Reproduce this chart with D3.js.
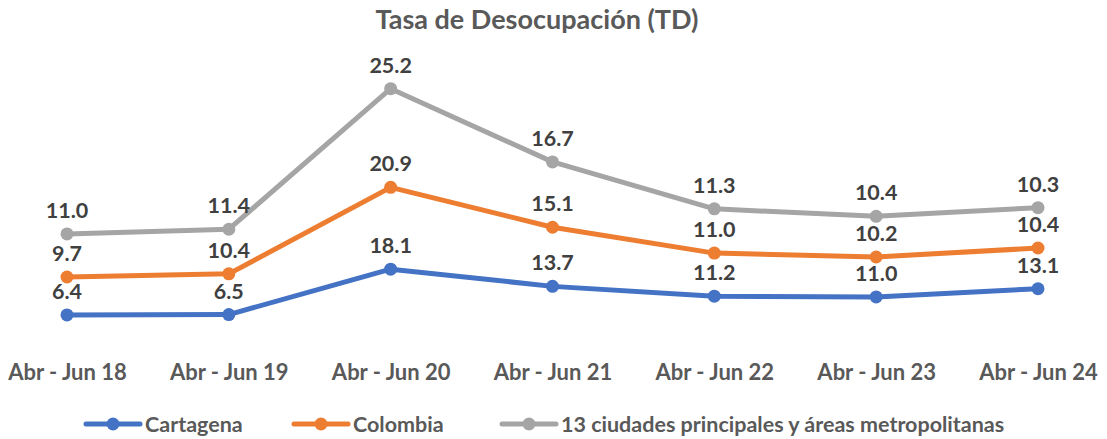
<!DOCTYPE html>
<html>
<head>
<meta charset="utf-8">
<script src="https://cdn.jsdelivr.net/npm/d3@7"></script>
<style>
  body { margin:0; background:#fff; }
  text { font-family: Lato, "Open Sans", sans-serif; font-weight:bold; }
</style>
</head>
<body>
<div id="canvas"></div>
<script>
// data (Excel stacked line: each series drawn on top of the previous)
var periods = ['Abr - Jun 18','Abr - Jun 19','Abr - Jun 20','Abr - Jun 21','Abr - Jun 22','Abr - Jun 23','Abr - Jun 24'];
var cartagena = [6.4, 6.5, 18.1, 13.7, 11.2, 11.0, 13.1];
var colombia = [9.7, 10.4, 20.9, 15.1, 11.0, 10.2, 10.4];
var ciudades = [11.0, 11.4, 25.2, 16.7, 11.3, 10.4, 10.3];
var seriesNames = ['Cartagena','Colombia','13 ciudades principales y áreas metropolitanas'];
var seriesColors = ['#4472C4','#ED7D31','#A5A5A5'];

var W = 1107, H = 439;
var svg = d3.select('#canvas').append('svg').attr('width',W).attr('height',H);

var rows = periods.map(function(p,i){
    return {period:p, s0:cartagena[i], s1:colombia[i], s2:ciudades[i]};
});
var stacked = d3.stack().keys(['s0','s1','s2'])(rows);

var x = d3.scalePoint().domain(periods).range([67,1038]);
var y = d3.scaleLinear().domain([0,70]).range([340,66]);

svg.append('text')
    .attr('x',537).attr('y',29)
    .attr('text-anchor','middle')
    .attr('fill','#595959')
    .style('font-size','27px')
    .text('Tasa de Desocupación (TD)');

// x axis labels only
var axisX = d3.axisBottom(x).tickSize(0).tickPadding(0);
var gx = svg.append('g').attr('transform','translate(0,364)').call(axisX);
gx.select('.domain').remove();
gx.selectAll('text')
    .attr('fill','#595959')
    .style('font-size','22px')
    .style('font-family','Lato, "Open Sans", sans-serif')
    .style('font-weight','bold');

var line = d3.line()
    .x(function(d){ return x(d.data.period); })
    .y(function(d){ return y(d[1]); });

stacked.forEach(function(s,k){
    var g = svg.append('g');
    g.append('path')
        .datum(s)
        .attr('d',line)
        .attr('fill','none')
        .attr('stroke',seriesColors[k])
        .attr('stroke-width',5)
        .attr('stroke-linejoin','round');
    g.selectAll('circle').data(s).enter().append('circle')
        .attr('cx',function(d){ return x(d.data.period); })
        .attr('cy',function(d){ return y(d[1]); })
        .attr('r',6.5)
        .attr('fill',seriesColors[k]);
    g.selectAll('text').data(s).enter().append('text')
        .attr('x',function(d){ return x(d.data.period); })
        .attr('y',function(d){ return y(d[1]) - 16; })
        .attr('text-anchor','middle')
        .attr('fill','#404040')
        .style('font-size','21.5px')
        .text(function(d){ return (d[1]-d[0]).toFixed(1); });
});

// legend
var legendX = [86, 294, 502];
var legend = svg.append('g').attr('transform','translate(0,424)');
seriesNames.forEach(function(n,k){
    var lg = legend.append('g').attr('transform','translate(' + legendX[k] + ',0)');
    lg.append('line').attr('x1',0).attr('x2',54).attr('y1',0).attr('y2',0)
        .attr('stroke',seriesColors[k]).attr('stroke-width',5).attr('stroke-linecap','round');
    lg.append('circle').attr('cx',27).attr('cy',0).attr('r',6.5).attr('fill',seriesColors[k]);
    lg.append('text').attr('x',59).attr('y',8)
        .attr('fill','#595959')
        .style('font-size','21.5px')
        .text(n);
});
</script>
</body>
</html>
